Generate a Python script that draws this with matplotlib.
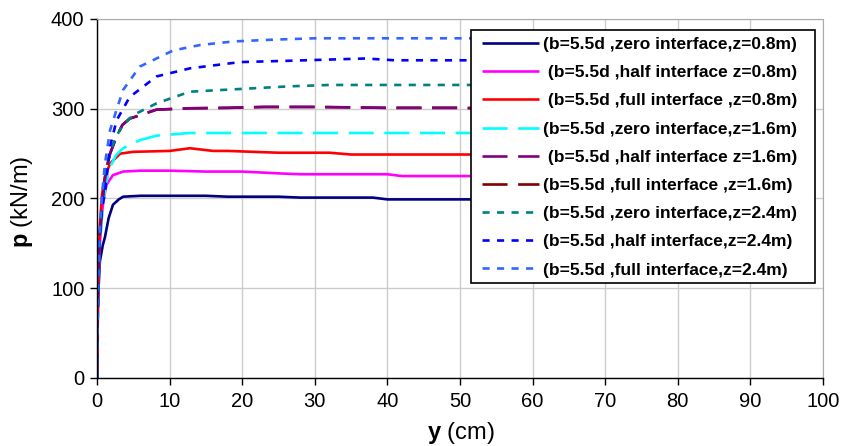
import matplotlib
matplotlib.use("Agg")
import matplotlib.pyplot as plt
from matplotlib.patches import Rectangle

plt.rcParams['font.family'] = ['Liberation Sans', 'DejaVu Sans']
plt.rcParams['mathtext.fontset'] = 'custom'
plt.rcParams['mathtext.bf'] = 'Liberation Sans:bold'
plt.rcParams['mathtext.rm'] = 'Liberation Sans'

# ---- data (y in cm, p in kN/m) ----
y_zero08 = [0, 0.15, 0.4, 0.8, 1.1, 1.6, 2.2, 3.0, 3.6, 6, 10, 15, 18, 25, 28, 38, 40, 50, 60]
p_zero08 = [0, 90, 130, 148, 157, 178, 193, 199, 202, 203, 203, 203, 202, 202, 201, 201, 199, 199, 199]

y_half08 = [0, 0.15, 0.4, 0.7, 0.9, 1.3, 1.6, 2.2, 3.6, 6, 10, 15, 20, 25, 28, 40, 42, 50, 60]
p_half08 = [0, 100, 150, 185, 198, 215, 219, 226, 230, 231, 231, 230, 230, 228, 227, 227, 225, 225, 225]

y_full08 = [0, 0.15, 0.4, 0.7, 1.1, 1.8, 3.2, 5, 10, 12.8, 16, 18, 25, 32, 35, 50, 60]
p_full08 = [0, 120, 170, 205, 224, 239, 250, 252, 253, 256, 253, 253, 251, 251, 249, 249, 249]

y_zero16 = [0, 0.15, 0.4, 0.8, 1.2, 1.8, 2.6, 3.6, 5.9, 8.2, 12.8, 20, 60]
p_zero16 = [0, 100, 150, 190, 215, 235, 248, 256, 265, 270, 273, 273, 273]

y_half16 = [0, 0.15, 0.4, 0.8, 1.2, 1.8, 2.7, 3.5, 4.5, 6, 8.2, 12.8, 18, 23, 30, 40, 50, 55, 60]
p_half16 = [0, 100, 160, 200, 230, 250, 269, 282, 289, 293, 299, 300.5, 301, 302, 302, 301, 301, 300, 299]

y_full16 = [0, 0.15, 0.4, 0.8, 1.2, 1.8, 2.7, 3.5, 4.5, 6, 8.2, 12.8, 18, 23, 30, 40, 50, 60]
p_full16 = [0, 100, 160, 200, 230, 250, 269, 282, 289, 293, 299, 300.5, 301, 302, 302, 301, 301, 299]

y_zero24 = [0, 0.15, 0.4, 0.8, 1.2, 1.8, 2.7, 3.6, 5, 8.2, 12.8, 19.7, 26.6, 32, 60]
p_zero24 = [0, 100, 160, 205, 232, 252, 270, 282, 293, 306, 319, 322, 325, 326.5, 326.5]

y_half24 = [0, 0.15, 0.4, 0.7, 1.1, 1.8, 2.7, 4.5, 8.2, 12.8, 19.7, 26.6, 37, 41, 60]
p_half24 = [0, 100, 160, 190, 206, 258, 287, 313, 336, 345, 352, 353.5, 356, 354, 354]

y_full24 = [0, 0.15, 0.4, 0.7, 1.1, 1.8, 2.7, 3.6, 5.9, 10.5, 14.2, 18.8, 24.3, 30, 60]
p_full24 = [0, 100, 165, 205, 239, 276, 299, 321, 347, 365, 371, 375, 377, 378.5, 378.5]

labels = [
    "(b=5.5d ,zero interface,z=0.8m)",
    " (b=5.5d ,half interface z=0.8m)",
    " (b=5.5d ,full interface ,z=0.8m)",
    "(b=5.5d ,zero interface,z=1.6m)",
    " (b=5.5d ,half interface z=1.6m)",
    "(b=5.5d ,full interface ,z=1.6m)",
    "(b=5.5d ,zero interface,z=2.4m)",
    "(b=5.5d ,half interface,z=2.4m)",
    "(b=5.5d ,full interface,z=2.4m)",
]
x_ticks = [0, 10, 20, 30, 40, 50, 60, 70, 80, 90, 100]
y_ticks = [0, 100, 200, 300, 400]

series = [
    (y_zero08, p_zero08, '#000080', '-'),
    (y_half08, p_half08, '#FF00FF', '-'),
    (y_full08, p_full08, '#FF0000', '-'),
    (y_zero16, p_zero16, '#00FFFF', 'long'),
    (y_half16, p_half16, '#800080', 'long'),
    (y_full16, p_full16, '#800000', 'long'),
    (y_zero24, p_zero24, '#008080', 'short'),
    (y_half24, p_half24, '#0000FF', 'short'),
    (y_full24, p_full24, '#3366FF', 'short'),
]

W, H = 856, 446
fig = plt.figure(figsize=(W / 100, H / 100), dpi=100)
ax = fig.add_axes([0.1133, 0.1525, 0.8481, 0.8049])

lw = 1.9
order = [0, 1, 2, 3, 5, 4, 6, 7, 8]
handles = [None] * 9
for i in order:
    xs, ps, c, st = series[i]
    if st == '-':
        ln, = ax.plot(xs, ps, color=c, lw=lw, solid_capstyle='butt')
    elif st == 'long':
        ln, = ax.plot(xs, ps, color=c, lw=lw, dashes=(9.5, 4.0), dash_capstyle='butt')
    else:
        ln, = ax.plot(xs, ps, color=c, lw=lw, dashes=(2.7, 2.8), dash_capstyle='butt')
    handles[i] = ln

ax.set_xlim(0, 100)
ax.set_ylim(0, 400)
ax.set_xticks(x_ticks)
ax.set_yticks(y_ticks)
ax.grid(True, color='#cccccc', lw=1.0)
ax.set_axisbelow(True)
for s in ['top', 'right']:
    ax.spines[s].set_color('#aaaaaa')
for s in ['left', 'bottom']:
    ax.spines[s].set_color('black')
    ax.spines[s].set_linewidth(1.0)
ax.tick_params(direction='out', length=5, width=1, labelsize=14.5)
ax.tick_params(axis='y', pad=4)
ax.tick_params(axis='x', pad=5)

ax.set_xlabel(r"$\mathbf{y}$ (cm)", fontsize=17)
ax.set_ylabel(r"$\mathbf{p}$ (kN/m)", fontsize=17)
ax.xaxis.set_label_coords(0.501, -0.118)
ax.yaxis.set_label_coords(-0.085, 0.49)

# legend frame (drawn separately so the padding matches the original box)
x0, y0, x1, y1 = 471, 30, 815, 283
frame = Rectangle((x0 / W, 1 - y1 / H), (x1 - x0) / W, (y1 - y0) / H,
                  transform=fig.transFigure, facecolor='white',
                  edgecolor='black', lw=1.2, zorder=4)
fig.patches.append(frame)

leg = fig.legend(handles, labels, loc='upper left',
                 bbox_to_anchor=(482 / W, 1 - 37 / H),
                 prop={'family': 'Liberation Sans', 'weight': 'bold', 'size': 12.5},
                 frameon=False,
                 handlelength=3.3, handletextpad=0.2, labelspacing=0.75,
                 borderpad=0.0, borderaxespad=0)
leg.set_zorder(5)

fig.savefig("out.png", dpi=100)
